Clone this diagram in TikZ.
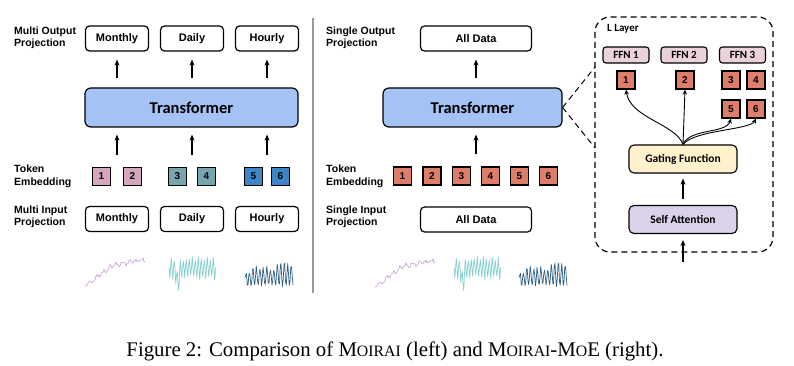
\documentclass[tikz,border=0pt]{standalone}
\usepackage{fontspec}
\setmainfont{Liberation Serif}
\newfontfamily\labfont{Liberation Sans}
\newfontfamily\calfont{Carlito}
\usetikzlibrary{arrows.meta,calc}
\definecolor{trblue}{HTML}{A4C2F4}
\definecolor{tpink}{HTML}{D5A6BD}
\definecolor{tteal}{HTML}{76A5AF}
\definecolor{tblue}{HTML}{3D85C6}
\definecolor{tred}{HTML}{DD7E6B}
\definecolor{ffnpink}{HTML}{EAD1DC}
\definecolor{gateyel}{HTML}{FFF2CC}
\definecolor{attpurp}{HTML}{D9D2E9}
\definecolor{smon}{HTML}{C79ED2}
\definecolor{sday}{HTML}{86CFCF}
\definecolor{shour}{HTML}{2F5F85}
\newcommand{\smcap}[1]{{\fontsize{15.8}{17}\selectfont #1}}
\newcommand{\serMon}[2]{%
  \pgfmathsetseed{11}%
  \draw[smon,line width=0.6pt,line join=round] plot[domain=0:60,samples=61]
    ({#1+\x},{#2-(\x<28 ? 0.75*\x : 21+0.15*(\x-28))+1.8*rand+1.5*sin(\x*55)});}
\newcommand{\serDay}[2]{%
  \pgfmathsetseed{23}%
  \draw[sday,line width=0.7pt,line join=round] plot[domain=0:46.5,samples=63]
    ({#1+\x},{#2+(10+3*rand)*sin(\x*120)+1.5*rand+14*exp(-((\x-9)^2)/3)});}
\newcommand{\serHour}[2]{%
  \pgfmathsetseed{37}%
  \draw[shour,line width=0.7pt,line join=round] plot[domain=0:48,samples=65]
    ({#1+\x},{#2-(12+10*\x/48+4*rand)*(0.5+0.55*sin(\x*103))+1.2*rand});}
\begin{document}
\begin{tikzpicture}[x=1pt,y=-1pt,
  lbl/.style={anchor=west,align=left,font=\labfont\bfseries\fontsize{10.5}{12.5}\selectfont,inner sep=0},
  pbox/.style={draw,rounded corners=4pt,line width=1.2pt,minimum height=25pt,font=\labfont\bfseries\fontsize{11}{12}\selectfont,inner sep=0,fill=white},
  trbox/.style={draw,rounded corners=6pt,line width=1.2pt,fill=trblue,minimum height=39pt,font=\calfont\bfseries\fontsize{16.5}{18}\selectfont,inner sep=0},
  tok/.style={draw,line width=1.1pt,minimum size=18pt,inner sep=0,font=\labfont\bfseries\fontsize{10}{12}\selectfont},
  inbox/.style={draw,rounded corners=5pt,line width=1.1pt,minimum width=108pt,minimum height=28pt,font=\calfont\bfseries\fontsize{11.5}{13}\selectfont,inner sep=0},
  ffn/.style={draw,rounded corners=3pt,line width=1.1pt,fill=ffnpink,minimum width=46pt,minimum height=16pt,font=\calfont\bfseries\fontsize{11}{12}\selectfont,inner sep=0},
  arr/.style={-{Stealth[length=6pt,width=5pt]},line width=1.1pt},
  garr/.style={-{Stealth[length=5pt,width=4.5pt]},line width=0.9pt},
]
\useasboundingbox (0,0) rectangle (794,366);
\fill[white] (0,0) rectangle (794,366);

% ---------- left panel ----------
\node[lbl] at (14,38) {Multi Output\\Projection};
\node[lbl] at (14,176.5) {Token\\Embedding};
\node[lbl] at (14,217) {Multi Input\\Projection};

\node[pbox,minimum width=63pt] (mo) at (117,38.5) {Monthly};
\node[pbox,minimum width=63pt] (do) at (192,38.5) {Daily};
\node[pbox,minimum width=63pt] (ho) at (267,38.5) {Hourly};

\node[trbox,minimum width=213pt] (trl) at (191.5,107.5) {Transformer};

\node[tok,fill=tpink] (l1) at (101.5,176.5) {1};
\node[tok,fill=tpink] (l2) at (132.5,176.5) {2};
\node[tok,fill=tteal] (l3) at (177.5,176.5) {3};
\node[tok,fill=tteal] (l4) at (206.5,176.5) {4};
\node[tok,fill=tblue] (l5) at (253.5,176.5) {5};
\node[tok,fill=tblue] (l6) at (280.5,176.5) {6};

\node[pbox,minimum width=63pt] (mi) at (117,219) {Monthly};
\node[pbox,minimum width=63pt] (di) at (192,219) {Daily};
\node[pbox,minimum width=63pt] (hi) at (267,219) {Hourly};

\foreach \b in {mo,do,ho}
  \draw[arr,shorten <=9pt,shorten >=8pt] (trl.north -| \b.south) -- (\b.south);
\coordinate (m12) at ($(l1.north)!0.5!(l2.north)$);
\coordinate (m34) at ($(l3.north)!0.5!(l4.north)$);
\coordinate (m56) at ($(l5.north)!0.5!(l6.north)$);
\foreach \m in {m12,m34,m56}
  \draw[arr,shorten <=12pt,shorten >=7pt] (\m) -- (\m |- trl.south);

\serMon{85}{286}
\serDay{169}{268}
\serHour{245}{285}

% separator
\draw[gray!80,line width=1.2pt] (313,18) -- (313,293);

% ---------- right panel ----------
\node[lbl] at (326,38) {Single Output\\Projection};
\node[lbl] at (326,176.5) {Token\\Embedding};
\node[lbl] at (326,217) {Single Input\\Projection};

\node[pbox,minimum width=111pt] (ao) at (476,38.5) {All Data};
\node[trbox,minimum width=179pt] (trr) at (472.5,107.5) {Transformer};

\node[tok,fill=tred] (r1) at (402.5,176) {1};
\node[tok,fill=tred] (r2) at (432,176) {2};
\node[tok,fill=tred] (r3) at (461.5,176) {3};
\node[tok,fill=tred] (r4) at (490.5,176) {4};
\node[tok,fill=tred] (r5) at (519.5,176) {5};
\node[tok,fill=tred] (r6) at (548.5,176) {6};

\node[pbox,minimum width=111pt] (ai) at (476,219.5) {All Data};

\draw[arr,shorten <=9pt,shorten >=8pt] (trr.north -| ao.south) -- (ao.south);
\coordinate (n34) at ($(r3.north)!0.5!(r4.north)$);
\draw[arr,shorten <=12pt,shorten >=7pt] (n34) -- (n34 |- trr.south);

\serMon{375}{287}
\serDay{454}{268}
\serHour{519}{285}

% ---------- MoE layer ----------
\draw[line width=1.2pt,dash pattern=on 6pt off 4pt,rounded corners=15pt] (595,17) rectangle (773,252);
\coordinate (bxu) at (595,67);
\coordinate (bxd) at (595,148);
\draw[line width=1pt,dash pattern=on 6pt off 4pt] (trr.east) -- (bxu);
\draw[line width=1pt,dash pattern=on 6pt off 4pt] (trr.east) -- (bxd);
\node[anchor=west,inner sep=0,font=\calfont\bfseries\fontsize{11}{12}\selectfont] (ll) at (607,28.5) {L Layer};

\node[ffn] (f1) at (626,55) {FFN 1};
\node[ffn] (f2) at (684,55) {FFN 2};
\node[ffn] (f3) at (742.5,55) {FFN 3};

\node[tok,fill=tred] (e1) at (626,80) {1};
\node[tok,fill=tred] (e2) at (685,80) {2};
\node[tok,fill=tred] (e3) at (731,80) {3};
\node[tok,fill=tred] (e4) at (756,80) {4};
\node[tok,fill=tred] (e5) at (731,109) {5};
\node[tok,fill=tred] (e6) at (756,109) {6};

\node[inbox,fill=gateyel] (gf) at (683,159) {Gating Function};
\node[inbox,fill=attpurp] (sa) at (683,219.5) {Self Attention};

\draw[arr,shorten <=6pt,shorten >=5pt] (sa.north) -- (gf.south);
\coordinate (inp) at (683,262);
\draw[arr,shorten >=6pt] (inp) -- (sa.south);

\draw[garr] (gf.north) .. controls (676,124) and (630,118) .. (e1.south);
\draw[garr] (gf.north) -- (e2.south);
\draw[garr] (gf.north) .. controls (690,128) and (726,134) .. (e5.south);
\draw[garr] (gf.north) .. controls (694,130) and (750,130) .. (e6.south);

% ---------- caption ----------
\node[inner sep=0,font=\fontsize{20.8}{23}\selectfont] (cap) at (395,351)
  {Figure 2: Comparison of M\smcap{OIRAI} (left) and M\smcap{OIRAI}-M\smcap{O}E (right).};
\end{tikzpicture}
\end{document}
